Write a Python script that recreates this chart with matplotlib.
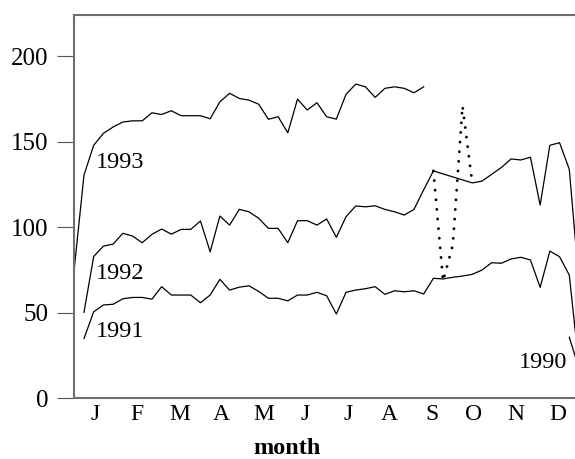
import matplotlib
matplotlib.use("Agg")
import matplotlib.pyplot as plt

plt.rcParams['font.family'] = ['Liberation Serif', 'DejaVu Serif']

months = ["J", "F", "M", "A", "M", "J", "J", "A", "S", "O", "N", "D"]
yticks = [0, 50, 100, 150, 200]

weeks_1993 = list(range(0, 37))
sales_1993 = [76, 130.6, 148, 155, 158.7, 161.6, 162.3, 162.3, 167, 166, 168.2,
              165.3, 165.3, 165.3, 163.5, 173.4, 178.4, 175.4, 174.4, 172, 163.2,
              164.7, 155.3, 175, 168.6, 172.9, 164.7, 163.3, 177.8, 183.8, 182.2,
              176, 181.3, 182.2, 181.3, 178.7, 182.2]

weeks_1992 = list(range(1, 38)) + list(range(41, 53))
sales_1992 = [50.3, 83, 89, 90.2, 96.5, 94.9, 91, 95.9, 99, 96, 98.8, 98.8, 103.7,
              85.7, 106.6, 101.3, 110.5, 109.1, 105.3, 99.4, 99.4, 91, 103.9, 103.9,
              101.3, 104.9, 94.2, 106.2, 112.5, 112, 112.6, 110.5, 109.1, 107.2,
              110.5, 122, 133,
              126, 127, 131, 135, 140, 139.4, 141, 113, 148, 149.5, 134, 68]

weeks_1991 = list(range(1, 53))
sales_1991 = [35, 50.6, 54.6, 55, 58.2, 59, 59, 58, 65.3, 60.4, 60.4, 60.4, 55.9,
              60.4, 69.6, 63.3, 65, 65.8, 62.5, 58.5, 58.5, 57, 60.4, 60.4, 62, 60,
              49.3, 62, 63.3, 64.1, 65.3, 60.8, 62.9, 62.3, 62.9, 61, 70.2, 69.8,
              70.8, 71.5, 72.5, 75, 79.3, 79, 81.5, 82.5, 80.9, 64.9, 86.1, 82.8,
              72.1, 19]

weeks_1990 = [51, 52]
sales_1990 = [35.7, 17.6]

weeks_dotted = [37, 38, 39, 40, 41]
sales_dotted = [133, 68.6, 89.7, 171, 126]

W, H = 575, 459
fig = plt.figure(figsize=(W / 100, H / 100), dpi=100)
ax = fig.add_axes([74 / W, (H - 398.3) / H, 1 - 74 / W, (398.3 - 15) / H])

lw = 0.9
ax.plot(weeks_1993, sales_1993, color='black', lw=lw)
ax.plot(weeks_1992, sales_1992, color='black', lw=lw)
ax.plot(weeks_1991, sales_1991, color='black', lw=lw)
ax.plot(weeks_1990, sales_1990, color='black', lw=lw)
ax.plot(weeks_dotted, sales_dotted, color='black', lw=2.1,
        linestyle=(0, (0.01, 3.3)), dash_capstyle='round')

fs = 17.5
ax.text(2.2, 134.5, "1993", fontsize=fs, ha='left', va='baseline')
ax.text(2.2, 69.8, "1992", fontsize=fs, ha='left', va='baseline')
ax.text(2.2, 36.0, "1991", fontsize=fs, ha='left', va='baseline')
ax.text(50.75, 17.5, "1990", fontsize=fs, ha='right', va='baseline')

ax.set_xlim(-0.03, 51.59)
ax.set_ylim(0, 224.2)

ax.set_yticks(yticks)
ax.set_yticklabels([str(v) for v in yticks], fontsize=18)
ax.set_xticks([(k + 0.5) * 52 / 12 for k in range(12)])
ax.set_xticklabels(months, fontsize=17)
ax.tick_params(axis='y', length=12.2, width=0.8, color='#555555', pad=6.3)
ax.tick_params(axis='x', length=0, pad=4.2)

for s in ['left', 'top', 'bottom']:
    ax.spines[s].set_color('#6e6e6e')
    ax.spines[s].set_linewidth(1.5)
ax.spines['right'].set_visible(False)

fig.text(287 / W, (H - 453.5) / H, "month", fontsize=17.5, fontweight='bold',
         ha='center', va='baseline')

fig.savefig("out.png", dpi=100)
